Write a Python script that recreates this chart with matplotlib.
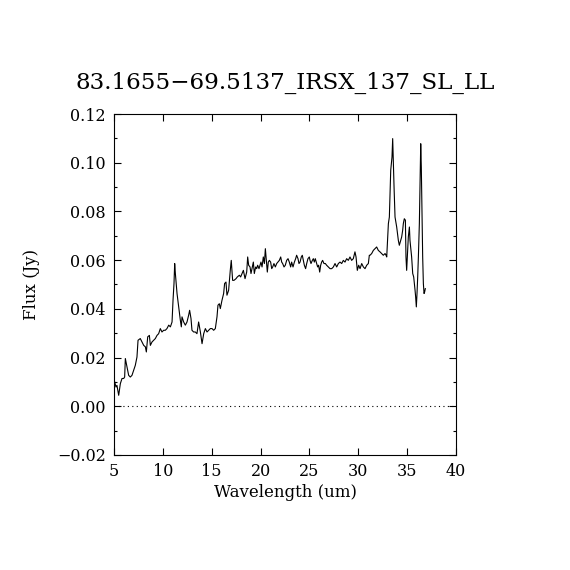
import matplotlib
matplotlib.use("Agg")
import matplotlib.pyplot as plt
from matplotlib.ticker import MultipleLocator

title = "83.1655\u221269.5137_IRSX_137_SL_LL"

# spectrum
wavelength = [
    5.07, 5.20, 5.30, 5.48, 5.65, 5.82, 5.99, 6.09, 6.16, 6.33, 6.50, 6.67, 6.84, 7.01,
    7.18, 7.35, 7.46, 7.69, 7.87, 8.04, 8.21, 8.31, 8.45, 8.62, 8.72, 8.89, 9.06, 9.23,
    9.40, 9.57, 9.74, 9.91, 10.08, 10.25, 10.42, 10.60, 10.77, 10.94, 11.04, 11.14, 11.21,
    11.28, 11.45, 11.62, 11.79, 11.89, 11.96, 12.13, 12.30, 12.47, 12.64, 12.74, 12.88,
    12.98, 13.15, 13.32, 13.49, 13.66, 13.84, 14.01, 14.18, 14.35, 14.52, 14.69, 14.86,
    15.03, 15.20, 15.37, 15.54, 15.64, 15.78, 15.88, 16.05, 16.22, 16.32, 16.46, 16.56,
    16.73, 16.90, 17.00, 17.14, 17.28, 17.49, 17.62, 17.83, 17.96, 18.10, 18.24, 18.41,
    18.58, 18.68, 18.78, 18.92, 19.02, 19.12, 19.26, 19.36, 19.50, 19.60, 19.70, 19.84,
    19.94, 20.04, 20.15, 20.28, 20.39, 20.49, 20.59, 20.69, 20.79, 20.90, 21.03, 21.14,
    21.24, 21.37, 21.51, 21.65, 21.78, 21.92, 22.06, 22.16, 22.26, 22.40, 22.53, 22.67,
    22.81, 22.94, 23.08, 23.18, 23.32, 23.46, 23.59, 23.69, 23.83, 23.93, 24.04, 24.17,
    24.27, 24.38, 24.48, 24.61, 24.72, 24.85, 24.99, 25.06, 25.16, 25.30, 25.40, 25.50,
    25.60, 25.74, 25.84, 25.94, 26.05, 26.15, 26.25, 26.35, 26.49, 26.63, 26.76, 26.93,
    27.11, 27.28, 27.45, 27.62, 27.79, 27.96, 28.13, 28.30, 28.47, 28.64, 28.81, 28.98,
    29.15, 29.32, 29.49, 29.66, 29.77, 29.90, 30.04, 30.18, 30.35, 30.52, 30.69, 30.86,
    31.03, 31.13, 31.20, 31.37, 31.54, 31.71, 31.88, 32.05, 32.22, 32.39, 32.56, 32.74,
    32.84, 32.91, 32.97, 33.08, 33.18, 33.32, 33.45, 33.52, 33.59, 33.66, 33.76, 33.93,
    34.10, 34.20, 34.34, 34.44, 34.54, 34.61, 34.71, 34.82, 34.88, 34.95, 35.02, 35.12,
    35.23, 35.29, 35.36, 35.46, 35.57, 35.67, 35.74, 35.81, 35.87, 35.94, 36.01, 36.08,
    36.15, 36.25, 36.32, 36.39, 36.45, 36.52, 36.59, 36.66, 36.73, 36.79, 36.86,
]
flux = [
    0.0100, 0.0079, 0.0086, 0.0045, 0.0093, 0.0114, 0.0114, 0.0120, 0.0196, 0.0161, 0.0127,
    0.0120, 0.0127, 0.0148, 0.0168, 0.0202, 0.0271, 0.0278, 0.0264, 0.0250, 0.0244, 0.0223,
    0.0285, 0.0291, 0.0250, 0.0264, 0.0271, 0.0278, 0.0291, 0.0298, 0.0319, 0.0305, 0.0312,
    0.0312, 0.0319, 0.0333, 0.0326, 0.0346, 0.0435, 0.0504, 0.0586, 0.0545, 0.0463, 0.0408,
    0.0353, 0.0326, 0.0367, 0.0346, 0.0333, 0.0346, 0.0374, 0.0394, 0.0360, 0.0312, 0.0305,
    0.0305, 0.0298, 0.0346, 0.0305, 0.0257, 0.0298, 0.0319, 0.0305, 0.0312, 0.0319, 0.0319,
    0.0312, 0.0319, 0.0367, 0.0415, 0.0421, 0.0401, 0.0435, 0.0463, 0.0504, 0.0510, 0.0456,
    0.0476, 0.0558, 0.0599, 0.0517, 0.0517, 0.0524, 0.0531, 0.0538, 0.0531, 0.0545, 0.0558,
    0.0524, 0.0551, 0.0613, 0.0579, 0.0572, 0.0545, 0.0565, 0.0592, 0.0545, 0.0572, 0.0565,
    0.0579, 0.0565, 0.0579, 0.0592, 0.0572, 0.0613, 0.0586, 0.0647, 0.0599, 0.0551, 0.0592,
    0.0599, 0.0592, 0.0565, 0.0572, 0.0586, 0.0572, 0.0586, 0.0592, 0.0599, 0.0613, 0.0592,
    0.0586, 0.0572, 0.0579, 0.0599, 0.0606, 0.0592, 0.0572, 0.0592, 0.0572, 0.0592, 0.0606,
    0.0620, 0.0606, 0.0586, 0.0592, 0.0613, 0.0620, 0.0599, 0.0579, 0.0565, 0.0586, 0.0606,
    0.0613, 0.0599, 0.0586, 0.0599, 0.0606, 0.0592, 0.0606, 0.0586, 0.0572, 0.0579, 0.0551,
    0.0579, 0.0592, 0.0599, 0.0586, 0.0586, 0.0579, 0.0572, 0.0565, 0.0565, 0.0572, 0.0586,
    0.0572, 0.0586, 0.0592, 0.0586, 0.0599, 0.0592, 0.0606, 0.0599, 0.0613, 0.0599, 0.0606,
    0.0634, 0.0613, 0.0558, 0.0579, 0.0565, 0.0586, 0.0572, 0.0565, 0.0579, 0.0586, 0.0620,
    0.0620, 0.0627, 0.0640, 0.0647, 0.0654, 0.0640, 0.0634, 0.0627, 0.0620, 0.0627, 0.0620,
    0.0613, 0.0661, 0.0750, 0.0777, 0.0969, 0.1023, 0.1099, 0.0996, 0.0900, 0.0777, 0.0736,
    0.0681, 0.0661, 0.0681, 0.0695, 0.0722, 0.0750, 0.0770, 0.0764, 0.0613, 0.0558, 0.0613,
    0.0695, 0.0736, 0.0681, 0.0654, 0.0613, 0.0545, 0.0531, 0.0504, 0.0476, 0.0449, 0.0408,
    0.0463, 0.0531, 0.0613, 0.0750, 0.0914, 0.1078, 0.0982, 0.0791, 0.0613, 0.0504, 0.0463,
    0.0469, 0.0483,
]

x_range = [5, 40]
y_range = [-0.02, 0.12]

plt.rcParams["font.family"] = ["DejaVu Serif"]

fig = plt.figure(figsize=(5.7, 5.7), dpi=100)
ax = fig.add_axes([0.2, 0.2018, 0.6, 0.5982])

ax.plot(wavelength, flux, color="black", linewidth=0.8)
ax.axhline(0, color="black", linestyle=(0, (1, 3)), linewidth=0.8)

ax.set_xlim(x_range)
ax.set_ylim(y_range)
ax.xaxis.set_major_locator(MultipleLocator(5))
ax.yaxis.set_major_locator(MultipleLocator(0.02))
ax.yaxis.set_minor_locator(MultipleLocator(0.01))
ax.yaxis.set_major_formatter(plt.FuncFormatter(lambda v, p: f"{v:.2f}".replace("-", "\u2212")))

ax.tick_params(which="both", direction="in", top=True, right=True, labelsize=11.5, pad=6)
ax.tick_params(which="major", length=5, width=0.8)
ax.tick_params(which="minor", length=2.5, width=0.8)
for s in ax.spines.values():
    s.set_linewidth(0.8)

ax.set_xlabel("Wavelength (um)", fontsize=12, labelpad=3)
ax.set_ylabel("Flux (Jy)", fontsize=12, labelpad=12)
ax.set_title(title, fontsize=16.6, pad=18)

fig.savefig("out.png", dpi=100)
